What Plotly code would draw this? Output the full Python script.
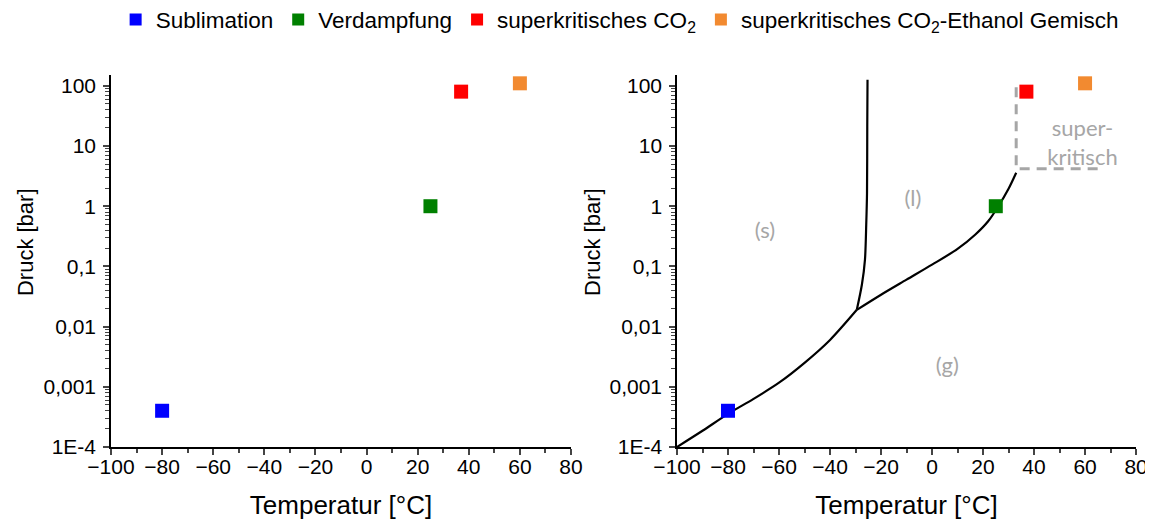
import plotly.graph_objects as go
from plotly.subplots import make_subplots

# ---- data ----
series_names = ["Sublimation", "Verdampfung", "superkritisches CO<sub>2</sub>",
                "superkritisches CO<sub>2</sub>-Ethanol Gemisch"]
series_colors = ["#0000ff", "#008000", "#ff0000", "#f28a30"]
series_T = [-80, 25, 37, 60]
series_p = [0.0004, 1.0, 80, 110]

subl_T = [-100, -90, -80, -70, -60, -50, -40, -29.5]
subl_p = [0.0001, 0.000186, 0.000355, 0.00063, 0.00117, 0.0025, 0.006, 0.019]

melt_T = [-29.5, -27.5, -26.3, -25.8, -25.5, -25.4, -25.3]
melt_p = [0.019, 0.05, 0.13, 0.5, 1.66, 21, 126]

vap_T = [-29.5, -20, -10, 0, 10, 17, 22, 26, 30, 33]
vap_p = [0.019, 0.0339, 0.0603, 0.107, 0.195, 0.339, 0.562, 1.0, 1.95, 3.6]

sc_T = [33, 33, 66.5]
sc_p = [95, 4.2, 4.2]

region_labels = ["(s)", "(l)", "(g)", "super-<br>kritisch"]
region_T = [-65.5, -7.5, 6, 59]
region_p = [0.37, 1.26, 0.00206, 10.5]

ytick_vals = [0.0001, 0.001, 0.01, 0.1, 1, 10, 100]
ytick_text = ["1E-4", "0,001", "0,01", "0,1", "1", "10", "100"]
ytick_minor = [m * 10 ** e for e in range(-4, 3) for m in range(2, 10)]
xtick_vals = [-100, -80, -60, -40, -20, 0, 20, 40, 60, 80]

x_title = "Temperatur [°C]"
y_title = "Druck [bar]"

fig = make_subplots(rows=1, cols=2)

for tx, py in [(subl_T, subl_p), (melt_T, melt_p), (vap_T, vap_p)]:
    fig.add_trace(go.Scatter(x=tx, y=py, mode="lines", showlegend=False,
                             line=dict(color="black", width=2.2, shape="spline", smoothing=0.8)),
                  row=1, col=2)

fig.add_trace(go.Scatter(x=sc_T, y=sc_p, mode="lines", showlegend=False,
                         line=dict(color="#a6a6a6", width=3, dash="10px,7px")),
              row=1, col=2)

fig.add_trace(go.Scatter(x=region_T, y=region_p, mode="text", text=region_labels,
                         showlegend=False, textposition="middle center",
                         textfont=dict(family="Lato", size=22, color="#a6a6a6")),
              row=1, col=2)

for i in range(4):
    for col in (1, 2):
        fig.add_trace(go.Scatter(
            x=[series_T[i]], y=[series_p[i]], mode="markers",
            name=series_names[i], showlegend=(col == 1),
            marker=dict(symbol="square", size=14, color=series_colors[i]),
        ), row=1, col=col)

tick_font = dict(family="Liberation Sans, Arial", size=21, color="black")

for ax in ("xaxis", "xaxis2"):
    fig.layout[ax].update(
        range=[-100, 80], tickvals=xtick_vals, ticks="outside", ticklen=6, tickwidth=1.5,
        showline=True, linecolor="black", linewidth=1.5, showgrid=False, zeroline=False,
        automargin=False, tickfont=tick_font, ticklabelstandoff=-6,
        title=dict(text=x_title, standoff=19,
                   font=dict(family="Liberation Sans, Arial", size=26, color="black")),
        minor=dict(ticks="outside", ticklen=4, tickwidth=1.5, dtick=10, tick0=0, showgrid=False),
    )
for ax in ("yaxis", "yaxis2"):
    fig.layout[ax].update(
        type="log", range=[-4, 2.18], tickvals=ytick_vals, ticktext=ytick_text,
        ticks="outside", ticklen=6, tickwidth=1.5,
        showline=True, linecolor="black", linewidth=1.5, showgrid=False, zeroline=False,
        automargin=False, tickfont=tick_font, ticklabelstandoff=3,
        minor=dict(ticks="outside", ticklen=4, tickwidth=1, tickvals=ytick_minor, showgrid=False),
    )

for xpos in (0.0149, 0.5100):
    fig.add_annotation(text=y_title, textangle=-90, xref="paper", yref="paper",
                       x=xpos, y=0.5465, xanchor="center", yanchor="middle", showarrow=False,
                       font=dict(family="Liberation Sans, Arial", size=22, color="black"))

fig.update_layout(
    width=1145, height=516,
    margin=dict(l=0, r=0, t=0, b=0, autoexpand=False),
    paper_bgcolor="white", plot_bgcolor="white",
    xaxis=dict(domain=[0.08996, 0.4917]),
    xaxis2=dict(domain=[0.5843, 0.9852]),
    yaxis=dict(domain=[0.1492, 0.8702]),
    yaxis2=dict(domain=[0.1492, 0.8702]),
    legend=dict(orientation="h", x=0.094, y=0.977, xref="container", yref="container",
                xanchor="left", yanchor="middle",
                font=dict(family="Liberation Sans, Arial", size=22.5, color="black"),
                itemsizing="constant", bgcolor="rgba(0,0,0,0)"),
)

fig.write_html("out.html")
